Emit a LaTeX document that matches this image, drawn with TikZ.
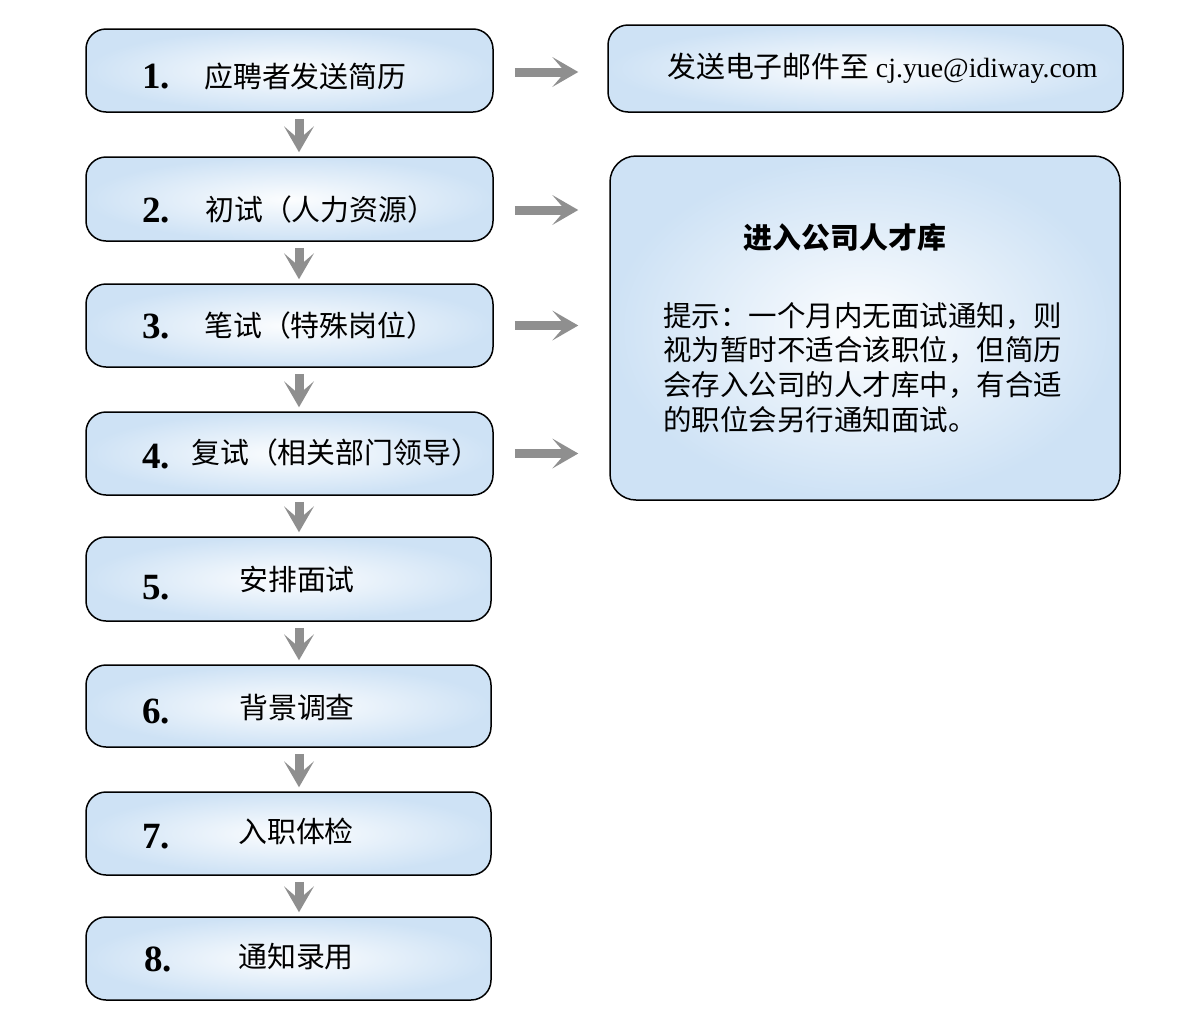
\documentclass[tikz,border=0pt]{standalone}
\usepackage{fontspec}
\setmainfont{Liberation Serif}
\newfontfamily\cjk{Noto Sans CJK SC}
\usetikzlibrary{arrows.meta,calc}
\definecolor{boxblue}{RGB}{206,226,245}
\definecolor{arrowgray}{RGB}{143,143,143}
\tikzset{
 flowbox/.style={rectangle, draw=black, line width=1.5pt, rounded corners=20pt, inner color=boxblue!6, outer color=boxblue, inner sep=0pt},
 numtext/.style={anchor=base west, inner sep=0pt, font=\fontsize{37}{40}\selectfont\bfseries},
 cjktext/.style={anchor=base west, inner sep=0pt, font=\cjk\fontsize{28.9}{34.5}\selectfont},
 grayarrow/.style={draw=arrowgray, line width=9pt, -{Stealth[length=26pt,width=30pt,inset=13pt,line width=0pt,fill=arrowgray]}},
}
\begin{document}
\begin{tikzpicture}[x=1pt,y=-1pt]
\useasboundingbox (0,0) rectangle (1204,1031);
% left boxes
\node[flowbox, minimum width=407pt, minimum height=83pt] (b1) at (289.5,70.5) {};
\node[flowbox, minimum width=407pt, minimum height=84pt] (b2) at (289.5,199) {};
\node[flowbox, minimum width=407pt, minimum height=83pt] (b3) at (289.5,325.5) {};
\node[flowbox, minimum width=407pt, minimum height=83pt] (b4) at (289.5,453.5) {};
\node[flowbox, minimum width=405pt, minimum height=84pt] (b5) at (288.5,579) {};
\node[flowbox, minimum width=405pt, minimum height=82pt] (b6) at (288.5,706) {};
\node[flowbox, minimum width=405pt, minimum height=83pt] (b7) at (288.5,833.5) {};
\node[flowbox, minimum width=405pt, minimum height=83pt] (b8) at (288.5,958.5) {};
% right boxes
\node[flowbox, minimum width=515pt, minimum height=87pt] (r1) at (865.5,68.5) {};
\node[flowbox, rounded corners=26pt, minimum width=510pt, minimum height=344pt] (r2) at (865,328) {};
% numbers
\node[numtext] (n1) at (142,88) {1.};
\node[numtext] (n2) at (142,222) {2.};
\node[numtext] (n3) at (142,338) {3.};
\node[numtext] (n4) at (142,468) {4.};
\node[numtext] (n5) at (142,599) {5.};
\node[numtext] (n6) at (142,723) {6.};
\node[numtext] (n7) at (142,848) {7.};
\node[numtext] (n8) at (144,971) {8.};
% labels
\node[cjktext] (t1) at (204,87.5) {应聘者发送简历};
\node[cjktext] (t2) at (205,220) {初试（人力资源）};
\node[cjktext] (t3) at (204,336) {笔试（特殊岗位）};
\node[cjktext] (t4) at (191,463.5) {复试（相关部门领导）};
\node[cjktext] (t5) at (239,590) {安排面试};
\node[cjktext] (t6) at (239,718.5) {背景调查};
\node[cjktext] (t7) at (238,842.5) {入职体检};
\node[cjktext] (t8) at (238,967.5) {通知录用};
% right texts
\node[cjktext] (e1) at (667,77) {发送电子邮件至 {\rmfamily\fontsize{27.8}{30}\selectfont cj.yue@idiway.com}};
\node[anchor=base, inner sep=0pt, font=\cjk\bfseries\fontsize{28.9}{34.5}\selectfont] (h2) at (845,248.5) {进入公司人才库};
\node[anchor=north west, inner sep=0pt, align=left, font=\cjk\fontsize{28.5}{34.8}\selectfont] (p2) at (663,302) {提示：一个月内无面试通知，则\\视为暂时不适合该职位，但简历\\会存入公司的人才库中，有合适\\的职位会另行通知面试。};
% down arrows
\coordinate (ax) at (299,0);
\foreach \a/\b in {b1/b2,b2/b3,b3/b4,b4/b5,b5/b6,b6/b7,b7/b8}
  \draw[grayarrow] ($(\a.south -| ax)+(0,6)$) -- ($(\b.north -| ax)+(0,-4)$);
% right arrows
\draw[grayarrow] ($(b1.east)+(21,1.5)$) -- ($(r1.west |- b1.east)+(-29,1.5)$);
\draw[grayarrow] ($(b2.east)+(21,11)$) -- ($(r2.west |- b2.east)+(-31,11)$);
\draw[grayarrow] ($(b3.east)+(21,0)$) -- ($(r2.west |- b3.east)+(-31,0)$);
\draw[grayarrow] ($(b4.east)+(21,0)$) -- ($(r2.west |- b4.east)+(-31,0)$);
\end{tikzpicture}
\end{document}
